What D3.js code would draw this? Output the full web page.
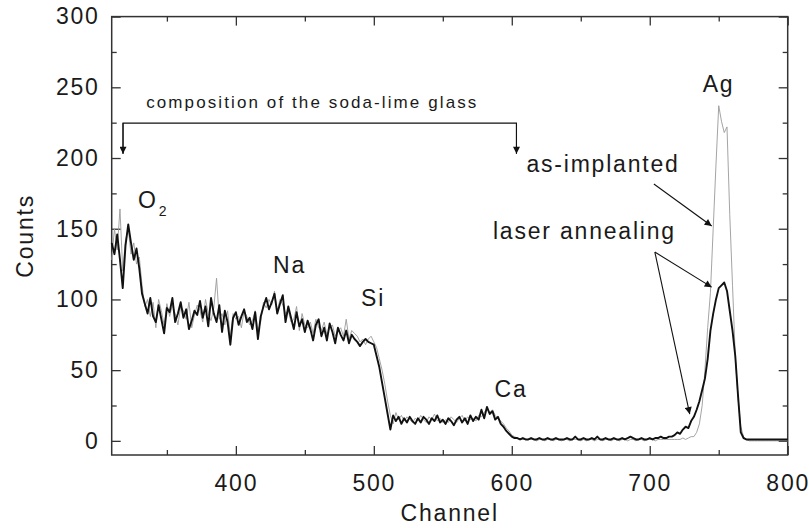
<!DOCTYPE html>
<html>
<head>
<meta charset="utf-8">
<script src="https://cdn.jsdelivr.net/npm/d3@7"></script>
<style>
  body { margin: 0; background: #fff; }
  text { font-family: "Liberation Sans", Arial, sans-serif; fill: #1a1a1a; }
</style>
</head>
<body>
<div id="chart"></div>
<script>
// Spectrum sampled every 2 channels, from channel 310 to 800
const channels = d3.range(310, 801, 2);

// laser annealing (thick black)
const laserCounts = [
  140,132,146,128,108,138,153,140,128,136,122,
  104,97,90,101,88,84,96,86,76,94,
  91,101,84,90,98,87,93,79,85,92,
  89,99,87,95,81,101,90,84,96,77,
  92,84,68,87,91,82,88,93,84,87,
  79,91,72,88,95,101,93,98,104,90,
  97,103,84,95,87,79,91,81,86,77,
  85,79,71,82,86,74,80,71,83,77,
  69,80,75,71,78,69,75,72,70,67,
  70,72,70,69,68,60,52,41,30,19,
  8,18,14,17,12,16,13,17,14,12,
  16,13,17,15,12,16,14,18,13,15,
  12,16,14,11,15,17,13,16,12,18,
  14,17,15,22,16,24,19,21,15,17,
  12,10,7,5,3,2,2,1,2,1,
  1,2,1,1,2,1,1,2,1,1,
  2,1,1,1,2,1,1,3,1,1,
  2,1,1,2,1,3,1,1,2,1,
  1,2,1,1,2,1,2,3,2,1,
  1,2,1,1,2,1,2,2,3,2,
  2,3,3,4,6,5,8,10,9,14,
  17,22,28,36,44,58,78,90,100,108,
  110,112,106,92,78,60,32,6,2,1,
  1,1,1,1,1,1,1,1,1,1,
  1,1,1,1,1
];

// as-implanted (thin grey)
const implantedCounts = [
  128,150,135,164,120,142,150,132,140,125,130,
  110,95,100,88,98,80,100,92,82,97,
  88,96,90,82,95,92,86,98,80,89,
  96,92,84,100,90,85,94,115,86,90,
  82,92,74,90,86,88,80,92,88,82,
  85,92,78,84,98,94,100,96,106,92,
  100,96,90,92,84,86,95,78,90,82,
  80,84,76,86,80,78,84,75,80,82,
  74,78,80,74,86,72,78,76,74,70,
  72,68,72,74,70,66,58,50,40,28,
  18,12,20,15,18,14,17,15,13,16,
  14,18,15,13,17,15,19,14,16,13,
  15,13,17,15,13,16,18,14,17,15,
  16,14,18,17,20,23,20,22,18,16,
  14,12,9,7,4,3,2,1,1,1,
  1,1,1,0,1,1,0,1,1,0,
  1,1,0,1,1,0,1,1,1,0,
  1,0,1,1,0,1,1,0,1,1,
  0,1,1,0,1,1,0,1,1,0,
  1,1,0,1,1,1,0,1,1,1,
  1,1,1,1,1,1,2,1,2,3,
  3,6,12,25,50,80,105,150,195,237,
  226,218,222,160,110,60,30,10,3,1,
  0,0,0,0,0,0,0,0,0,0,
  0,0,0,0,0
];

const xTicks = [400, 500, 600, 700, 800];
const yTicks = [0, 50, 100, 150, 200, 250, 300];

// element labels: [text, channel, counts]
const peakLabels = [
  ["Na", 427, 119],
  ["Si", 490.7, 95.3],
  ["Ca", 587.5, 31],
  ["Ag", 738.4, 247]
];

const W = 809, H = 528;
const margin = { top: 16.6, right: 21.3, bottom: 73, left: 111.7 };

const svg = d3.select("#chart").append("svg")
  .attr("width", W)
  .attr("height", H);

const x = d3.scaleLinear().domain([310, 800]).range([margin.left, W - margin.right]);
const y = d3.scaleLinear().domain([-10, 300]).range([H - margin.bottom, margin.top]);

const font = { size: "23px", spacing: "1.8px" };

// frame with inward ticks on all sides
const axisColor = "#333";
function styleAxis(g) {
  g.select(".domain").remove();
  g.selectAll("line").attr("stroke", axisColor).attr("stroke-width", 1.3);
}
const minorX = d3.range(350, 800, 100);
const minorY = d3.range(25, 300, 50);

svg.append("g").attr("transform", `translate(0,${y(-10)})`)
  .call(d3.axisBottom(x).tickValues(xTicks).tickSize(-9).tickPadding(20).tickFormat(d3.format("d")))
  .call(styleAxis)
  .call(g => g.selectAll("text").attr("font-size", font.size).attr("letter-spacing", font.spacing).attr("fill", "#1a1a1a"));
svg.append("g").attr("transform", `translate(0,${y(-10)})`)
  .call(d3.axisBottom(x).tickValues(minorX).tickSize(-5).tickFormat(""))
  .call(styleAxis);

svg.append("g").attr("transform", `translate(0,${y(300)})`)
  .call(d3.axisTop(x).tickValues(xTicks).tickSize(-9).tickFormat(""))
  .call(styleAxis);
svg.append("g").attr("transform", `translate(0,${y(300)})`)
  .call(d3.axisTop(x).tickValues(minorX).tickSize(-5).tickFormat(""))
  .call(styleAxis);

svg.append("g").attr("transform", `translate(${x(310)},0)`)
  .call(d3.axisLeft(y).tickValues(yTicks).tickSize(-9).tickPadding(12).tickFormat(d3.format("d")))
  .call(styleAxis)
  .call(g => g.selectAll("text").attr("font-size", font.size).attr("letter-spacing", font.spacing).attr("fill", "#1a1a1a"));
svg.append("g").attr("transform", `translate(${x(310)},0)`)
  .call(d3.axisLeft(y).tickValues(minorY).tickSize(-5).tickFormat(""))
  .call(styleAxis);

svg.append("g").attr("transform", `translate(${x(800)},0)`)
  .call(d3.axisRight(y).tickValues(yTicks).tickSize(-9).tickFormat(""))
  .call(styleAxis);
svg.append("g").attr("transform", `translate(${x(800)},0)`)
  .call(d3.axisRight(y).tickValues(minorY).tickSize(-5).tickFormat(""))
  .call(styleAxis);

svg.append("rect")
  .attr("x", x(310)).attr("y", y(300))
  .attr("width", x(800) - x(310)).attr("height", y(-10) - y(300))
  .attr("fill", "none").attr("stroke", axisColor).attr("stroke-width", 1.5);

// spectra
const line = d3.line().x((d, i) => x(channels[i])).y(d => y(d));

svg.append("path")
  .datum(implantedCounts)
  .attr("fill", "none")
  .attr("stroke", "#9a9a9a")
  .attr("stroke-width", 0.9)
  .attr("d", line);

svg.append("path")
  .datum(laserCounts)
  .attr("fill", "none")
  .attr("stroke", "#111")
  .attr("stroke-width", 1.9)
  .attr("stroke-linejoin", "round")
  .attr("d", line);

// axis titles
svg.append("text")
  .attr("x", (x(310) + x(800)) / 2).attr("y", 521)
  .attr("text-anchor", "middle")
  .attr("font-size", font.size).attr("letter-spacing", font.spacing)
  .text("Channel");

svg.append("text")
  .attr("transform", `translate(33,${(y(-10) + y(300)) / 2}) rotate(-90)`)
  .attr("text-anchor", "middle")
  .attr("font-size", font.size).attr("letter-spacing", font.spacing)
  .text("Counts");

// element labels
svg.selectAll(".peak")
  .data(peakLabels)
  .join("text")
  .attr("class", "peak")
  .attr("x", d => x(d[1])).attr("y", d => y(d[2]))
  .attr("font-size", font.size).attr("letter-spacing", font.spacing)
  .text(d => d[0]);

const o2 = svg.append("text")
  .attr("x", x(329)).attr("y", y(165))
  .attr("font-size", font.size);
o2.append("tspan").text("O");
o2.append("tspan").attr("font-size", "14px").attr("dx", 3).attr("dy", 8).text("2");

// arrow marker
svg.append("defs").append("marker")
  .attr("id", "head")
  .attr("viewBox", "0 0 10 10")
  .attr("refX", 10).attr("refY", 5)
  .attr("markerWidth", 12).attr("markerHeight", 7)
  .attr("markerUnits", "userSpaceOnUse")
  .attr("orient", "auto")
  .append("path").attr("d", "M0,0 L10,5 L0,10 Z").attr("fill", "#111");

// bracket over the glass components
const bracketY = 224.7, tipY = 203;
svg.append("path")
  .attr("d", `M${x(318.2)},${y(tipY)} L${x(318.2)},${y(bracketY)} L${x(603.4)},${y(bracketY)} L${x(603.4)},${y(tipY)}`)
  .attr("fill", "none").attr("stroke", "#111").attr("stroke-width", 1.1);
[318.2, 603.4].forEach(c => {
  svg.append("line")
    .attr("x1", x(c)).attr("y1", y(bracketY))
    .attr("x2", x(c)).attr("y2", y(tipY))
    .attr("stroke", "#111").attr("stroke-width", 1.1)
    .attr("marker-end", "url(#head)");
});
svg.append("text")
  .attr("x", x(335)).attr("y", y(235.5))
  .attr("font-size", "17px").attr("letter-spacing", "2.1px")
  .text("composition of the soda-lime glass");

// curve labels and pointers
svg.append("text")
  .attr("x", x(721.7)).attr("y", y(190))
  .attr("text-anchor", "end")
  .attr("font-size", font.size).attr("letter-spacing", font.spacing)
  .text("as-implanted");
svg.append("text")
  .attr("x", x(719)).attr("y", y(143))
  .attr("text-anchor", "end")
  .attr("font-size", font.size).attr("letter-spacing", font.spacing)
  .text("laser annealing");

const pointers = [
  [703.0, 181.6, 744.9, 151.9],
  [703.7, 133.5, 744.9, 108.7],
  [703.7, 133.5, 729.0, 18.9]
];
svg.selectAll(".ptr")
  .data(pointers)
  .join("line")
  .attr("class", "ptr")
  .attr("x1", d => x(d[0])).attr("y1", d => y(d[1]))
  .attr("x2", d => x(d[2])).attr("y2", d => y(d[3]))
  .attr("stroke", "#111").attr("stroke-width", 1.1)
  .attr("marker-end", "url(#head)");
</script>
</body>
</html>
